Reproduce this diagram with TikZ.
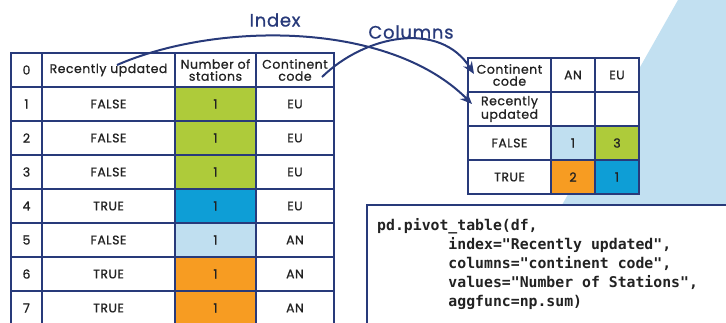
\documentclass[tikz,border=0pt]{standalone}
\usepackage{fontspec}
\setmainfont{Poppins}[LetterSpace=4, FakeBold=0.8]
\setmonofont{DejaVu Sans Mono}
\usetikzlibrary{arrows.meta}

\definecolor{navy}{RGB}{40,58,122}
\definecolor{inkgray}{RGB}{34,34,34}
\definecolor{cgreen}{RGB}{174,203,58}
\definecolor{cblue}{RGB}{14,158,214}
\definecolor{clight}{RGB}{192,223,240}
\definecolor{corange}{RGB}{247,156,34}
\definecolor{skyback}{RGB}{194,224,241}

\tikzset{
  cell/.style={draw=navy, line width=2.6pt, fill=white, minimum height=34pt, inner sep=0pt,
    align=center, text=inkgray, font=\fontsize{12.5}{12.5}\selectfont},
  head/.style={cell, font=\fontsize{12.5}{12}\selectfont},
  wnum/.style={minimum width=31pt},
  wflag/.style={minimum width=133pt},
  wcount/.style={minimum width=81pt},
  wcode/.style={minimum width=78pt},
  wkey/.style={minimum width=83pt},
  wval/.style={minimum width=44pt},
  title/.style={text=navy, font=\fontsize{18}{20}\selectfont},
  pointer/.style={draw=navy, line width=2pt, -{Stealth[length=12pt,width=10pt]}}
}

\begin{document}
\begin{tikzpicture}[x=1pt, y=-1pt]
\useasboundingbox (0,0) rectangle (726,322);
\clip (0,0) rectangle (726,322);
\fill[white] (0,0) rectangle (726,322);
\fill[skyback] (678,0) -- (726,0) -- (726,205) -- (562,205) -- cycle;

% source table
\node[head, wnum]   (h0) at (26.5,70) {0};
\node[head, wflag]  (h1) at (108.5,70) {Recently updated};
\node[head, wcount] (h2) at (215.5,70) {Number of\\stations};
\node[head, wcode]  (h3) at (295,70) {Continent\\code};

\node[cell, wnum] (n1) at (26.5,104) {1};
\node[cell, wflag] (f1) at (108.5,104) {FALSE};
\node[cell, wcount, fill=cgreen] (s1) at (215.5,104) {1};
\node[cell, wcode] (c1) at (295,104) {EU};

\node[cell, wnum] (n2) at (26.5,138) {2};
\node[cell, wflag] (f2) at (108.5,138) {FALSE};
\node[cell, wcount, fill=cgreen] (s2) at (215.5,138) {1};
\node[cell, wcode] (c2) at (295,138) {EU};

\node[cell, wnum] (n3) at (26.5,172) {3};
\node[cell, wflag] (f3) at (108.5,172) {FALSE};
\node[cell, wcount, fill=cgreen] (s3) at (215.5,172) {1};
\node[cell, wcode] (c3) at (295,172) {EU};

\node[cell, wnum] (n4) at (26.5,206) {4};
\node[cell, wflag] (f4) at (108.5,206) {TRUE};
\node[cell, wcount, fill=cblue] (s4) at (215.5,206) {1};
\node[cell, wcode] (c4) at (295,206) {EU};

\node[cell, wnum] (n5) at (26.5,240) {5};
\node[cell, wflag] (f5) at (108.5,240) {FALSE};
\node[cell, wcount, fill=clight] (s5) at (215.5,240) {1};
\node[cell, wcode] (c5) at (295,240) {AN};

\node[cell, wnum] (n6) at (26.5,274) {6};
\node[cell, wflag] (f6) at (108.5,274) {TRUE};
\node[cell, wcount, fill=corange] (s6) at (215.5,274) {1};
\node[cell, wcode] (c6) at (295,274) {AN};

\node[cell, wnum] (n7) at (26.5,308) {7};
\node[cell, wflag] (f7) at (108.5,308) {TRUE};
\node[cell, wcount, fill=corange] (s7) at (215.5,308) {1};
\node[cell, wcode] (c7) at (295,308) {AN};

% pivoted table
\node[head, wkey] (pk) at (509.5,75) {Continent\\code};
\node[cell, wval] (pan) at (573,75) {AN};
\node[cell, wval] (peu) at (617,75) {EU};
\node[head, wkey] (pr) at (509.5,109) {Recently\\updated};
\node[cell, wval] (pe1) at (573,109) {};
\node[cell, wval] (pe2) at (617,109) {};
\node[cell, wkey] (pf) at (509.5,143) {FALSE};
\node[cell, wval, fill=clight] (pfan) at (573,143) {1};
\node[cell, wval, fill=cgreen] (pfeu) at (617,143) {3};
\node[cell, wkey] (pt) at (509.5,177) {TRUE};
\node[cell, wval, fill=corange] (ptan) at (573,177) {2};
\node[cell, wval, fill=cblue] (pteu) at (617,177) {1};

% labels and arrows
\node[title] (lindex) at (275,20) {Index};
\node[title] (lcols) at (411,32) {Columns};
\coordinate (idxfrom) at (117,65);
\coordinate (idxto) at (472,104);
\coordinate (colfrom) at (322,77);
\coordinate (colto) at (474,74);
\draw[pointer] (idxfrom) .. controls (215,22) and (388,20) .. (idxto);
\draw[pointer] (colfrom) .. controls (365,35) and (440,20) .. (colto);

% code box
\draw[navy, line width=2.6pt, fill=white] (367,205) rectangle (740,340);
\node[anchor=north west, align=left, inner sep=0pt, text=inkgray,
  font=\ttfamily\bfseries\fontsize{14.8}{19}\selectfont] (code) at (377,218)
  {pd.pivot\_table(df,\\
   \hphantom{00000000}index="Recently updated",\\
   \hphantom{00000000}columns="continent code",\\
   \hphantom{00000000}values="Number of Stations",\\
   \hphantom{00000000}aggfunc=np.sum)};
\end{tikzpicture}
\end{document}
